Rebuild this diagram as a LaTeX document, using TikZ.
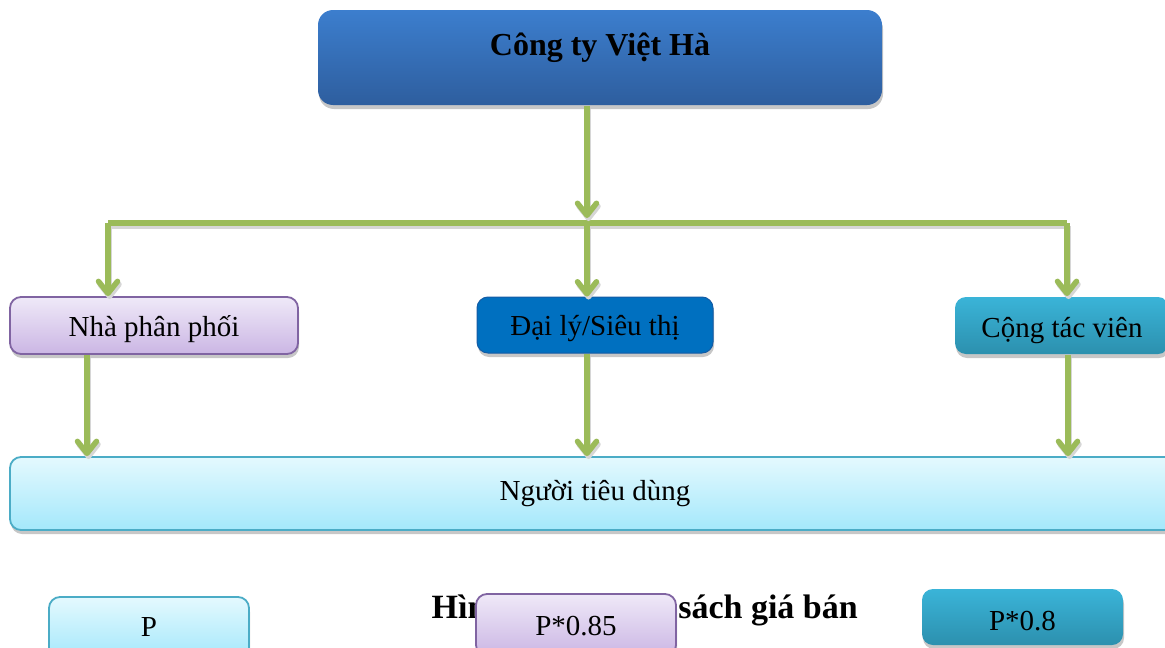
\documentclass[tikz,border=0pt]{standalone}
\usepackage{fontspec}
\setmainfont{Liberation Serif}
\usetikzlibrary{arrows.meta,shadows,calc}
\definecolor{grn}{RGB}{155,187,89}
\definecolor{topA}{RGB}{60,126,206}
\definecolor{topB}{RGB}{46,94,158}
\definecolor{purA}{RGB}{239,233,248}
\definecolor{purB}{RGB}{203,182,228}
\definecolor{purD}{RGB}{128,100,162}
\definecolor{dlF}{RGB}{0,112,192}
\definecolor{dlD}{RGB}{20,92,165}
\definecolor{tealA}{RGB}{58,180,216}
\definecolor{tealB}{RGB}{44,144,174}
\definecolor{cyA}{RGB}{228,249,254}
\definecolor{cyB}{RGB}{164,232,251}
\definecolor{cyD}{RGB}{75,172,198}
\tikzset{
  shad/.style={drop shadow={shadow xshift=1pt,shadow yshift=-4pt,fill=black!22,opacity=1}},
  basebox/.style={rectangle,rounded corners=11pt,line width=1.8pt,shad,inner sep=0pt,
    font=\fontsize{29}{34}\selectfont,text height=21pt,text depth=0pt},
  topbox/.style={basebox,rounded corners=15pt,draw=none,top color=topA,bottom color=topB,
    font=\fontsize{32}{38}\selectfont\bfseries,text height=24pt,text depth=29pt},
  purbox/.style={basebox,draw=purD,top color=purA,bottom color=purB},
  dlbox/.style={basebox,draw=dlD,line width=1pt,fill=dlF},
  tealbox/.style={basebox,draw=none,top color=tealA,bottom color=tealB},
  cybox/.style={basebox,draw=cyD,top color=cyA,bottom color=cyB},
  conn/.style={draw=grn,line width=5.5pt,line join=miter,
    preaction={draw=black!16,line width=5.5pt,transform canvas={shift={(1.5pt,-3pt)}}}},
  arr/.style={-{Straight Barb[length=12pt,width=19pt,round]}},
  caption/.style={font=\fontsize{34}{40}\selectfont\bfseries,inner sep=0pt,anchor=base east}
}
\begin{document}
\begin{tikzpicture}[x=1pt,y=-1pt]
\useasboundingbox (0,0) rectangle (1165,648);
\clip (0,0) rectangle (1165,648);

% nodes
\node[topbox,minimum width=564pt,minimum height=95pt] (top) at (600,57.5) {Công ty Việt Hà};
\node[purbox,minimum width=288pt,minimum height=57pt] (npp) at (154,325.5) {Nhà phân phối};
\node[dlbox,minimum width=236pt,minimum height=56pt,text height=20pt] (dl) at (595,325) {Đại lý/Siêu thị};
\node[tealbox,minimum width=214pt,minimum height=57pt,text height=23pt] (ctv) at (1062,325.5) {Cộng tác viên};
\node[cybox,minimum width=1170pt,minimum height=73pt,text height=17pt,text depth=4pt] (ntd) at (595,493.5) {Người tiêu dùng};

% coordinates for connector columns
\coordinate (busC) at (587,223);
\coordinate (busL) at (108,223);
\coordinate (busR) at (1067,223);
\coordinate (xl) at (87,0);
\coordinate (xc) at (587,0);
\coordinate (xr) at (1068,0);

% connectors
\draw[conn] (busL) -- (busR);
\draw[conn,arr] (top.south -| busC) -- ($(busC)+(0,-5)$);
\draw[conn,arr] (busL) -- (npp.north -| busL);
\draw[conn,arr] (busC) -- (dl.north -| busC);
\draw[conn,arr] (busR) -- (ctv.north -| busR);
\draw[conn,arr] (npp.south -| xl) -- (ntd.north -| xl);
\draw[conn,arr] (dl.south -| xc) -- (ntd.north -| xc);
\draw[conn,arr] (ctv.south -| xr) -- (ntd.north -| xr);

% caption and price boxes
\node[caption] (cap) at (858,618) {Hình 2.3: Chính sách giá bán};
\node[cybox,minimum width=200pt,minimum height=62pt,text height=16pt] (p1) at (149,628) {P};
\node[purbox,minimum width=200pt,minimum height=62pt,text height=20pt] (p2) at (576,625) {P*0.85};
\node[tealbox,minimum width=201pt,minimum height=56pt,text height=26pt] (p3) at (1022.5,617) {P*0.8};
\end{tikzpicture}
\end{document}
